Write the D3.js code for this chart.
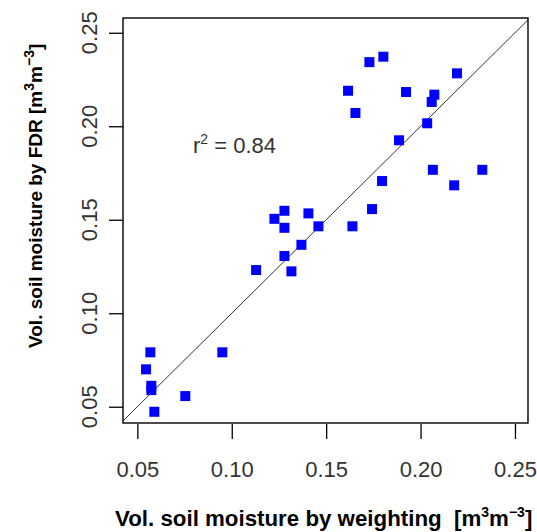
<!DOCTYPE html>
<html>
<head>
<meta charset="utf-8">
<script src="https://cdn.jsdelivr.net/npm/d3@7"></script>
<style>
	body { margin: 0; background: #fff; }
	text { font-family: "Liberation Sans", Arial, sans-serif; }
</style>
</head>
<body>
<svg id="chart" width="537" height="532"></svg>
<script>
// volumetric soil moisture, weighting (x) vs FDR (y)
var weighting = [0.1616, 0.1923, 0.2073, 0.2059, 0.1655, 0.2035, 0.1886, 0.2065, 0.2327, 0.1796,
	0.2178, 0.1743, 0.1279, 0.1406, 0.1226, 0.1279, 0.1459, 0.1639, 0.1369, 0.1279,
	0.1129, 0.1316, 0.1729, 0.1803, 0.2193, 0.0569, 0.0950, 0.0546, 0.0574, 0.0574,
	0.0754, 0.0590];
var fdr = [0.2190, 0.2183, 0.2169, 0.2130, 0.2071, 0.2016, 0.1925, 0.1767, 0.1767, 0.1707,
	0.1684, 0.1557, 0.1548, 0.1534, 0.1505, 0.1457, 0.1465, 0.1465, 0.1366, 0.1306,
	0.1231, 0.1224, 0.2343, 0.2372, 0.2283, 0.0791, 0.0791, 0.0700, 0.0612, 0.0589,
	0.0557, 0.0473];
var xTicks = [0.05, 0.10, 0.15, 0.20, 0.25];
var yTicks = [0.05, 0.10, 0.15, 0.20, 0.25];
var rSquared = "0.84";

var svg = d3.select("#chart");
var plotLeft = 123, plotTop = 18, plotRight = 528, plotBottom = 423;

var x = d3.scaleLinear().domain([0.0424, 0.2569]).range([plotLeft, plotRight]);
var y = d3.scaleLinear().domain([0.0413, 0.2579]).range([plotBottom, plotTop]);

// 1:1 line
var lo = Math.max(x.domain()[0], y.domain()[0]);
var hi = Math.min(x.domain()[1], y.domain()[1]);
svg.append("line")
	.attr("x1", x(lo)).attr("y1", y(lo))
	.attr("x2", x(hi)).attr("y2", y(hi))
	.attr("stroke", "#333").attr("stroke-width", 1);

// points
var pts = d3.range(weighting.length);
svg.selectAll("rect.pt").data(pts).enter().append("rect")
	.attr("class", "pt")
	.attr("x", function (i) { return x(weighting[i]) - 5; })
	.attr("y", function (i) { return y(fdr[i]) - 5; })
	.attr("width", 10).attr("height", 10)
	.attr("fill", "#0000ff");

// box
svg.append("rect")
	.attr("x", plotLeft).attr("y", plotTop)
	.attr("width", plotRight - plotLeft).attr("height", plotBottom - plotTop)
	.attr("fill", "none").attr("stroke", "#000").attr("stroke-width", 1.4);

// x axis
var xAxis = d3.axisBottom(x).tickValues(xTicks).tickSize(15).tickPadding(22)
	.tickFormat(d3.format(".2f"));
var gx = svg.append("g").attr("transform", "translate(0," + (plotBottom + 1) + ")").call(xAxis);
gx.select(".domain").remove();
gx.selectAll("line").attr("stroke", "#000").attr("stroke-width", 1.3);
gx.selectAll("text").attr("font-size", 22).attr("fill", "#333")
	.attr("font-family", "Liberation Sans, Arial, sans-serif");

// y axis (labels rotated like R default)
var yAxis = d3.axisLeft(y).tickValues(yTicks).tickSize(14).tickFormat("");
var gy = svg.append("g").attr("transform", "translate(" + plotLeft + ",0)").call(yAxis);
gy.select(".domain").remove();
gy.selectAll("line").attr("stroke", "#000").attr("stroke-width", 1.3);
svg.selectAll("text.ylab").data(yTicks).enter().append("text")
	.attr("class", "ylab")
	.attr("transform", function (d) { return "translate(97," + y(d) + ") rotate(-90)"; })
	.attr("text-anchor", "middle")
	.attr("font-size", 22).attr("fill", "#333")
	.text(d3.format(".2f"));

// titles
function unitLabel(sel, sup) {
	sel.append("tspan").text("m");
	sel.append("tspan").attr("dy", -sup).attr("font-size", 14).text("3");
	sel.append("tspan").attr("dy", sup).text("m");
	sel.append("tspan").attr("dy", -sup).attr("font-size", 14).text("\u22123");
	sel.append("tspan").attr("dy", sup).text("]");
}
var xt = svg.append("text")
	.attr("x", 115).attr("y", 526)
	.attr("font-size", 22.3).attr("font-weight", "bold").attr("fill", "#000")
	.attr("xml:space", "preserve");
xt.append("tspan").text("Vol. soil moisture by weighting  [");
unitLabel(xt, 9);

var yt = svg.append("text")
	.attr("transform", "translate(42,348) rotate(-90)")
	.attr("font-size", 19).attr("font-weight", "bold").attr("fill", "#000")
	.attr("xml:space", "preserve");
yt.append("tspan").text("Vol. soil moisture by FDR [");
unitLabel(yt, 8);

// r squared
var rt = svg.append("text")
	.attr("x", 193).attr("y", 153)
	.attr("font-size", 22).attr("fill", "#333")
	.attr("xml:space", "preserve");
rt.append("tspan").text("r");
rt.append("tspan").attr("dy", -9).attr("font-size", 14).text("2");
rt.append("tspan").attr("dy", 9).text(" = " + rSquared);
</script>
</body>
</html>
